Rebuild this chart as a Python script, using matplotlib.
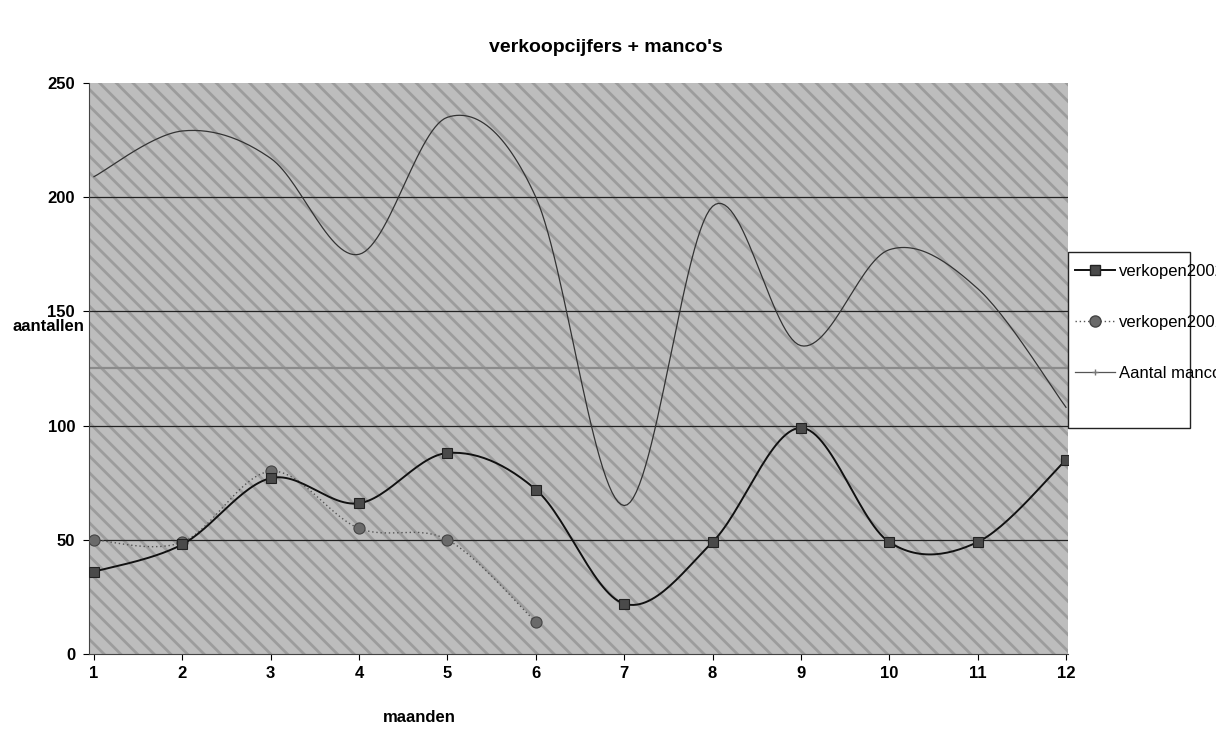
import numpy as np
import matplotlib
matplotlib.use("Agg")
import matplotlib.pyplot as plt
from matplotlib.patches import Rectangle
from matplotlib.lines import Line2D

plt.rcParams['font.family'] = ['Liberation Sans', 'DejaVu Sans']

# ---- data ----
months = [1, 2, 3, 4, 5, 6, 7, 8, 9, 10, 11, 12]
sales_a = [36, 48, 77, 66, 88, 72, 22, 49, 99, 49, 49, 85]
sales_b = [50, 49, 80, 55, 50, 14, None, None, None, None, None, None]
manco = [209, 229, 217, 175, 235, 200, 65, 196, 135, 177, 160, 108]
labels = ["verkopen2002", "verkopen2001", "Aantal manco's"]
yticks = [0, 50, 100, 150, 200, 250]
title = "verkoopcijfers + manco's"
xlabel = "maanden"
ylabel = "aantallen"


def smooth(xs, ys, n=30):
    """Excel-style smoothed line (cubic Bezier, Catmull-Rom control points)."""
    pts = [(x, y) for x, y in zip(xs, ys) if y is not None]
    P = np.array(pts, dtype=float)
    out = [P[0]]
    m = len(P)
    t = np.linspace(0, 1, n)[1:, None]
    for i in range(m - 1):
        p0 = P[i - 1] if i > 0 else P[i]
        p1 = P[i]
        p2 = P[i + 1]
        p3 = P[i + 2] if i + 2 < m else P[i + 1]
        c1 = p1 + (p2 - p0) / 6.0
        c2 = p2 - (p3 - p1) / 6.0
        seg = ((1 - t) ** 3) * p1 + 3 * ((1 - t) ** 2) * t * c1 + 3 * (1 - t) * t ** 2 * c2 + t ** 3 * p2
        out.extend(seg)
    out = np.array(out)
    return out[:, 0], out[:, 1], P


W, H = 1216, 730
fig = plt.figure(figsize=(W / 100, H / 100), dpi=100)
L, R, T, B = 89, 1068, 83, 654
ax = fig.add_axes([L / W, 1 - B / H, (R - L) / W, (B - T) / H])

px = 88.36
ax.set_xlim(1 - 5 / px, 12 + 2 / px)
ax.set_ylim(0, 250)

# textured grey background
ax.set_facecolor('#bdbdbd')
plt.rcParams['hatch.linewidth'] = 2.0
ax.add_patch(Rectangle((0, 0), 1, 1, transform=ax.transAxes, facecolor='none',
                       edgecolor='#9c9c9c', hatch='\\\\', linewidth=0, zorder=0))

# gridlines
for v in yticks[1:-1]:
    ax.axhline(v, color='#222222', lw=0.9, zorder=1)
ax.axhline(125, color='#8a8a8a', lw=1.6, zorder=1)

# manco line
x3, y3, P3 = smooth(months, manco)
ax.plot(x3, y3, color='#333333', lw=0.9, zorder=2)

# series b (dotted, circles)
x2, y2, P2 = smooth(months, sales_b)
ax.plot(x2, y2, color='#555555', lw=1.0, ls=(0, (1, 2)), zorder=3)
ax.plot(P2[:, 0], P2[:, 1], ls='none', marker='o', ms=8, mfc='#6a6a6a',
        mec='#444444', mew=0.8, zorder=4)

# series a (solid, squares)
x1, y1, P1 = smooth(months, sales_a)
ax.plot(x1, y1, color='#111111', lw=1.4, zorder=5)
ax.plot(P1[:, 0], P1[:, 1], ls='none', marker='s', ms=7, mfc='#4a4a4a',
        mec='#222222', mew=0.8, zorder=6)

# axes styling
for s in ['top', 'right']:
    ax.spines[s].set_visible(False)
ax.spines['left'].set_color('#444444')
ax.spines['bottom'].set_color('#444444')
ax.set_xticks(months)
ax.set_xticklabels([str(m) for m in months])
ax.set_yticks(yticks)
ax.tick_params(axis='x', length=4, width=0.8, pad=5, labelsize=12)
ax.tick_params(axis='y', length=4, width=0.8, pad=6, labelsize=12)
for lab in ax.get_xticklabels() + ax.get_yticklabels():
    lab.set_fontweight('bold')

fig.text(606 / W, 1 - 47 / H, title, ha='center', va='center', fontsize=14, fontweight='bold')
fig.text(48 / W, 1 - 326 / H, ylabel, ha='center', va='center', fontsize=12, fontweight='bold')
fig.text(419 / W, 1 - 718 / H, xlabel, ha='center', va='center', fontsize=12, fontweight='bold')

# legend box
fig.patches.append(Rectangle((1068 / W, 1 - 428 / H), (1190 - 1068) / W, (428 - 252) / H,
                             transform=fig.transFigure, facecolor='white',
                             edgecolor='#222222', lw=1.0, zorder=0))
handles = [
    Line2D([], [], color='#111111', lw=1.4, marker='s', ms=7, mfc='#4a4a4a', mec='#222222'),
    Line2D([], [], color='#555555', lw=1.0, ls=(0, (1, 2)), marker='o', ms=8, mfc='#6a6a6a', mec='#444444'),
    Line2D([], [], color='#555555', lw=0.9, marker='+', ms=4, mec='#777777'),
]
leg = fig.legend(handles, labels, loc='upper left', bbox_to_anchor=(1070 / W, 1 - 259 / H),
                 frameon=False, fontsize=12, handlelength=2.4, handletextpad=0.25,
                 labelspacing=2.15, borderpad=0.3, borderaxespad=0)

fig.savefig('out.png', dpi=100)
